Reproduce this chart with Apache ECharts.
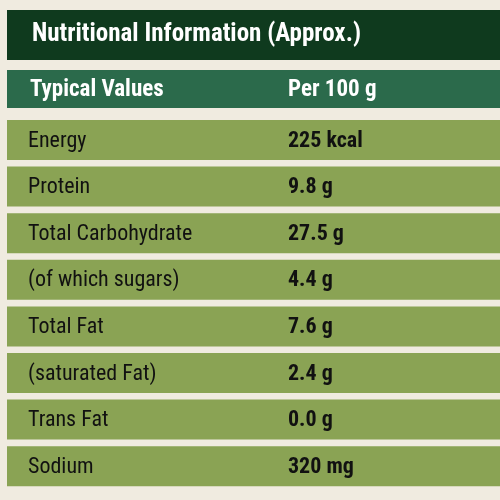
<!DOCTYPE html><html><head><meta charset="utf-8"><script src="https://cdn.jsdelivr.net/npm/echarts@6/dist/echarts.min.js"></script>
<style>html,body{margin:0;padding:0;background:#f0ebe0}#c{width:500px;height:500px}</style></head><body><div id="c"></div><script>
var title = "Nutritional Information (Approx.)";
var headers = ["Typical Values", "Per 100 g"];
var nutrients = ["Energy","Protein","Total Carbohydrate","(of which sugars)","Total Fat","(saturated Fat)","Trans Fat","Sodium"];
var amounts = ["225 kcal","9.8 g","27.5 g","4.4 g","7.6 g","2.4 g","0.0 g","320 mg"];
var F = '"Liberation Sans Narrow","Roboto Condensed","Liberation Sans",sans-serif';
var els = [];
els.push({type:'rect',shape:{x:7,y:10,width:493,height:50},style:{fill:'#0f3a1e'}});
els.push({type:'text',x:32,y:35,style:{text:title,fill:'#fff',font:'bold 25px '+F,verticalAlign:'middle'}});
els.push({type:'rect',shape:{x:7,y:70,width:493,height:38},style:{fill:'#2b6a4b'}});
els.push({type:'text',x:30,y:90,style:{text:headers[0],fill:'#fff',font:'bold 23px '+F,verticalAlign:'middle'}});
els.push({type:'text',x:288,y:90,style:{text:headers[1],fill:'#fff',font:'bold 23px '+F,verticalAlign:'middle'}});
nutrients.forEach(function(n,i){
  var y = 120 + i*46.6;
  els.push({type:'rect',shape:{x:7,y:y,width:493,height:40},style:{fill:'#8aa354'}});
  els.push({type:'text',x:28,y:y+21,style:{text:n,fill:'#111',font:'22px '+F,verticalAlign:'middle'}});
  els.push({type:'text',x:288,y:y+21,style:{text:amounts[i],fill:'#111',font:'bold 22px '+F,verticalAlign:'middle'}});
});
var ch = echarts.init(document.getElementById('c'));
ch.setOption({backgroundColor:'#f0ebe0',graphic:{elements:els}});
</script></body></html>
